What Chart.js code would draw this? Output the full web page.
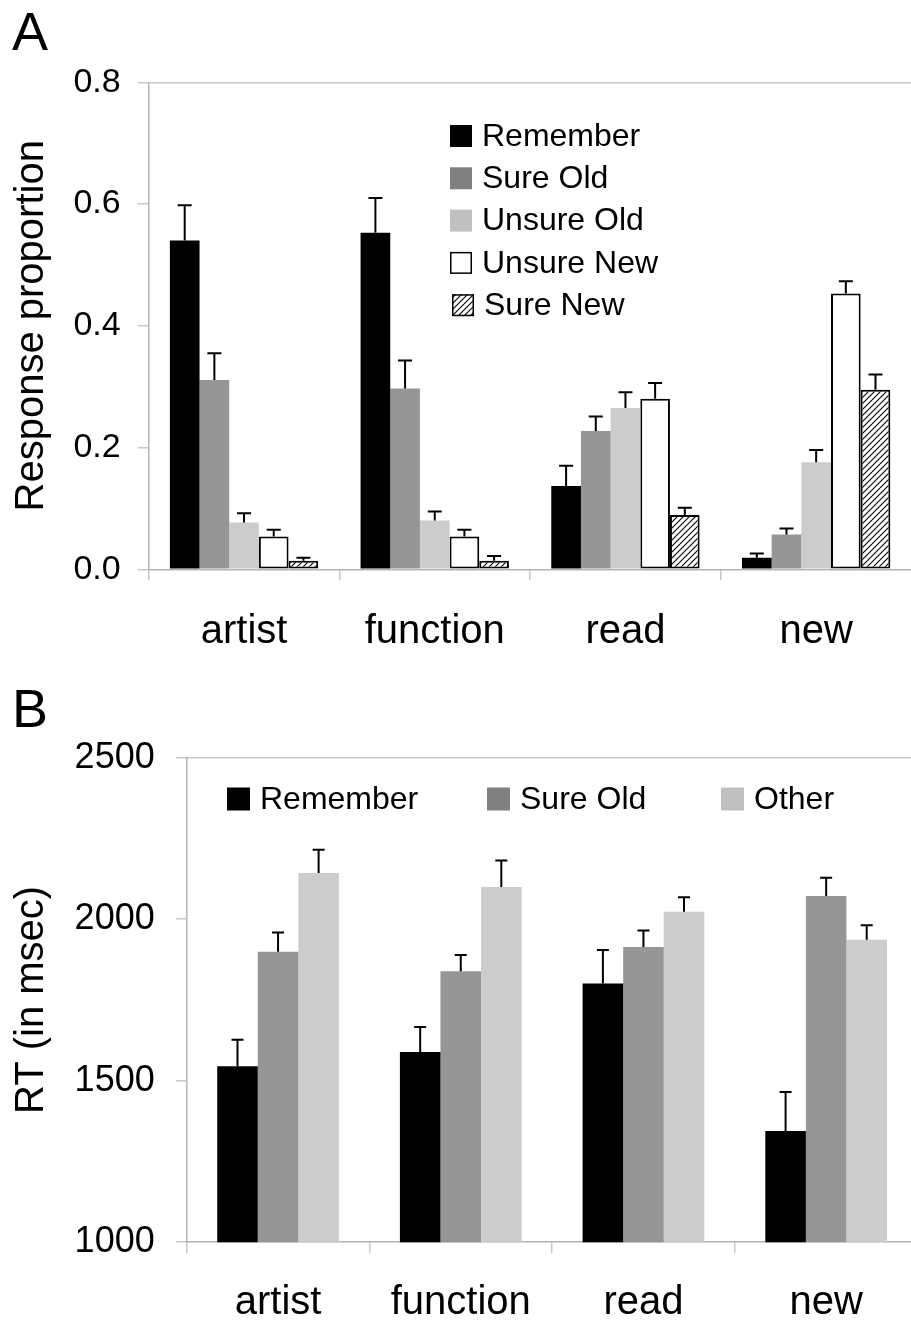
<!DOCTYPE html>
<html>
<head>
<meta charset="utf-8">
<script src="https://cdn.jsdelivr.net/npm/chart.js@4"></script>
<style>
  body { margin: 0; background: #fff; overflow: hidden; width: 911px; height: 1323px; position: relative; }
  canvas { position: absolute; left: 0; }
  #chartA { top: 0; }
  #chartB { top: 660px; }
  .panel { position: absolute; left: 12px; font: 54px "Liberation Sans", Arial, sans-serif; line-height: 1; }
</style>
</head>
<body>
<canvas id="chartA" width="930" height="660"></canvas>
<canvas id="chartB" width="930" height="663"></canvas>
<div class="panel" style="top:4px">A</div>
<div class="panel" style="top:681px">B</div>
<script>
const categories = ['artist', 'function', 'read', 'new'];

// panel A: response proportions (mean, s.e.)
const rememberA = [0.540, 0.553, 0.137, 0.019];
const rememberAErr = [0.058, 0.057, 0.033, 0.007];
const sureOldA = [0.311, 0.297, 0.227, 0.057];
const sureOldAErr = [0.044, 0.046, 0.024, 0.010];
const unsureOldA = [0.077, 0.080, 0.265, 0.176];
const unsureOldAErr = [0.015, 0.015, 0.026, 0.020];
const unsureNewA = [0.054, 0.054, 0.280, 0.453];
const unsureNewAErr = [0.011, 0.011, 0.026, 0.020];
const sureNewA = [0.014, 0.014, 0.089, 0.295];
const sureNewAErr = [0.005, 0.008, 0.012, 0.025];

// panel B: RT in msec (mean, s.e.)
const rememberB = [1545, 1589, 1801, 1344];
const rememberBErr = [82, 77, 104, 121];
const sureOldB = [1899, 1839, 1914, 2072];
const sureOldBErr = [60, 50, 51, 56];
const otherB = [2143, 2100, 2023, 1936];
const otherBErr = [72, 82, 45, 45];

const FONT = '"Liberation Sans", Arial, sans-serif';
const AXIS = '#b4b4b4';
const GRID = '#c8c8c8';

// diagonal hatch for "Sure New"
const hatchCanvas = document.createElement('canvas');
hatchCanvas.width = 6; hatchCanvas.height = 6;
const hc = hatchCanvas.getContext('2d');
hc.fillStyle = '#fff';
hc.fillRect(0, 0, 6, 6);
hc.strokeStyle = '#000';
hc.lineWidth = 1.1;
hc.beginPath();
hc.moveTo(0, 6); hc.lineTo(6, 0);
hc.moveTo(-1, 1); hc.lineTo(1, -1);
hc.moveTo(5, 7); hc.lineTo(7, 5);
hc.stroke();
const hatch = hc.createPattern(hatchCanvas, 'repeat');

// error bars + legend, drawn on the canvas
const extras = {
  id: 'extras',
  afterDatasetsDraw(chart, args, opts) {
    const ctx = chart.ctx;
    const y = chart.scales.y;
    ctx.save();
    ctx.strokeStyle = '#000';
    ctx.lineWidth = 2;
    chart.data.datasets.forEach((ds, i) => {
      const meta = chart.getDatasetMeta(i);
      meta.data.forEach((bar, j) => {
        const top = y.getPixelForValue(ds.data[j] + ds.errors[j]);
        ctx.beginPath();
        ctx.moveTo(bar.x, bar.y);
        ctx.lineTo(bar.x, top);
        ctx.moveTo(bar.x - opts.cap / 2, top);
        ctx.lineTo(bar.x + opts.cap / 2, top);
        ctx.stroke();
      });
    });
    // legend
    ctx.font = opts.font + 'px ' + FONT;
    ctx.textBaseline = 'middle';
    ctx.textAlign = 'left';
    chart.data.datasets.forEach((ds, i) => {
      const lx = opts.legendX[i], ly = opts.legendY[i], s = opts.box;
      ctx.fillStyle = ds.legendColor || ds.backgroundColor;
      ctx.fillRect(lx, ly - s / 2, s, s);
      if (ds.borderWidth) {
        ctx.lineWidth = 1.5;
        ctx.strokeStyle = '#000';
        ctx.strokeRect(lx + 0.75, ly - s / 2 + 0.75, s - 1.5, s - 1.5);
      }
      ctx.fillStyle = '#000';
      ctx.fillText(ds.label, lx + s + 10, ly + 1);
    });
    ctx.restore();
  }
};

function scales(yMin, yMax, step, yFont, yPad, yTitle, yWidth, xHeight, xPad, fmt) {
  return {
    x: {
      grid: { offset: true, drawOnChartArea: false, tickLength: 11, color: GRID, lineWidth: 1.5 },
      border: { color: AXIS, width: 1.5 },
      ticks: { color: '#000', font: { family: FONT, size: 40 }, padding: xPad, maxRotation: 0 },
      afterFit(s) { s.height = xHeight; }
    },
    y: {
      min: yMin, max: yMax,
      grid: {
        tickLength: 11, lineWidth: 1.5, tickColor: GRID,
        color: c => (c.tick && c.tick.value === yMax) ? GRID : 'rgba(0,0,0,0)'
      },
      border: { color: AXIS, width: 1.5 },
      ticks: { stepSize: step, color: '#000', font: { family: FONT, size: yFont }, padding: yPad, callback: fmt },
      title: { display: true, text: yTitle, color: '#000', font: { family: FONT, size: 40 }, padding: { top: 8, bottom: 0 } },
      afterFit(s) { s.width = yWidth; }
    }
  };
}

const rowsA = [0, 1, 2, 3, 4].map(i => 136 + 42.3 * i);

new Chart(document.getElementById('chartA'), {
  type: 'bar',
  data: {
    labels: categories,
    datasets: [
      { label: 'Remember', data: rememberA, errors: rememberAErr, backgroundColor: '#000', borderWidth: 0 },
      { label: 'Sure Old', data: sureOldA, errors: sureOldAErr, backgroundColor: '#969696', legendColor: '#808080', borderWidth: 0 },
      { label: 'Unsure Old', data: unsureOldA, errors: unsureOldAErr, backgroundColor: '#cccccc', legendColor: '#c0c0c0', borderWidth: 0 },
      { label: 'Unsure New', data: unsureNewA, errors: unsureNewAErr, backgroundColor: '#fff', borderColor: '#000', borderWidth: 2, borderSkipped: false },
      { label: 'Sure New', data: sureNewA, errors: sureNewAErr, backgroundColor: hatch, borderColor: '#000', borderWidth: 2, borderSkipped: false }
    ]
  },
  options: {
    responsive: false,
    animation: false,
    devicePixelRatio: 1,
    layout: { padding: { top: 82.3, right: 18.5, left: 0, bottom: 0 } },
    datasets: { bar: { categoryPercentage: 0.778, barPercentage: 1 } },
    scales: scales(0, 0.8, 0.2, 34, 17, 'Response proportion', 148.7, 90.7, 28, v => v.toFixed(1)),
    plugins: {
      legend: { display: false },
      tooltip: { enabled: false },
      extras: { cap: 14, font: 32, box: 22, legendX: [450, 450, 450, 450, 452], legendY: rowsA }
    }
  },
  plugins: [extras]
});

new Chart(document.getElementById('chartB'), {
  type: 'bar',
  data: {
    labels: categories,
    datasets: [
      { label: 'Remember', data: rememberB, errors: rememberBErr, backgroundColor: '#000', borderWidth: 0 },
      { label: 'Sure Old', data: sureOldB, errors: sureOldBErr, backgroundColor: '#969696', legendColor: '#808080', borderWidth: 0 },
      { label: 'Other', data: otherB, errors: otherBErr, backgroundColor: '#cccccc', legendColor: '#c0c0c0', borderWidth: 0 }
    ]
  },
  options: {
    responsive: false,
    animation: false,
    devicePixelRatio: 1,
    layout: { padding: { top: 97.7, right: 12.5, left: 0, bottom: 0 } },
    datasets: { bar: { categoryPercentage: 0.666, barPercentage: 1 } },
    scales: scales(1000, 2500, 500, 36, 21, 'RT (in msec)', 186.7, 80.8, 26, v => v),
    plugins: {
      legend: { display: false },
      tooltip: { enabled: false },
      extras: { cap: 12, font: 32, box: 23, legendX: [227, 487, 721], legendY: [139, 139, 139] }
    }
  },
  plugins: [extras]
});
</script>
</body>
</html>
